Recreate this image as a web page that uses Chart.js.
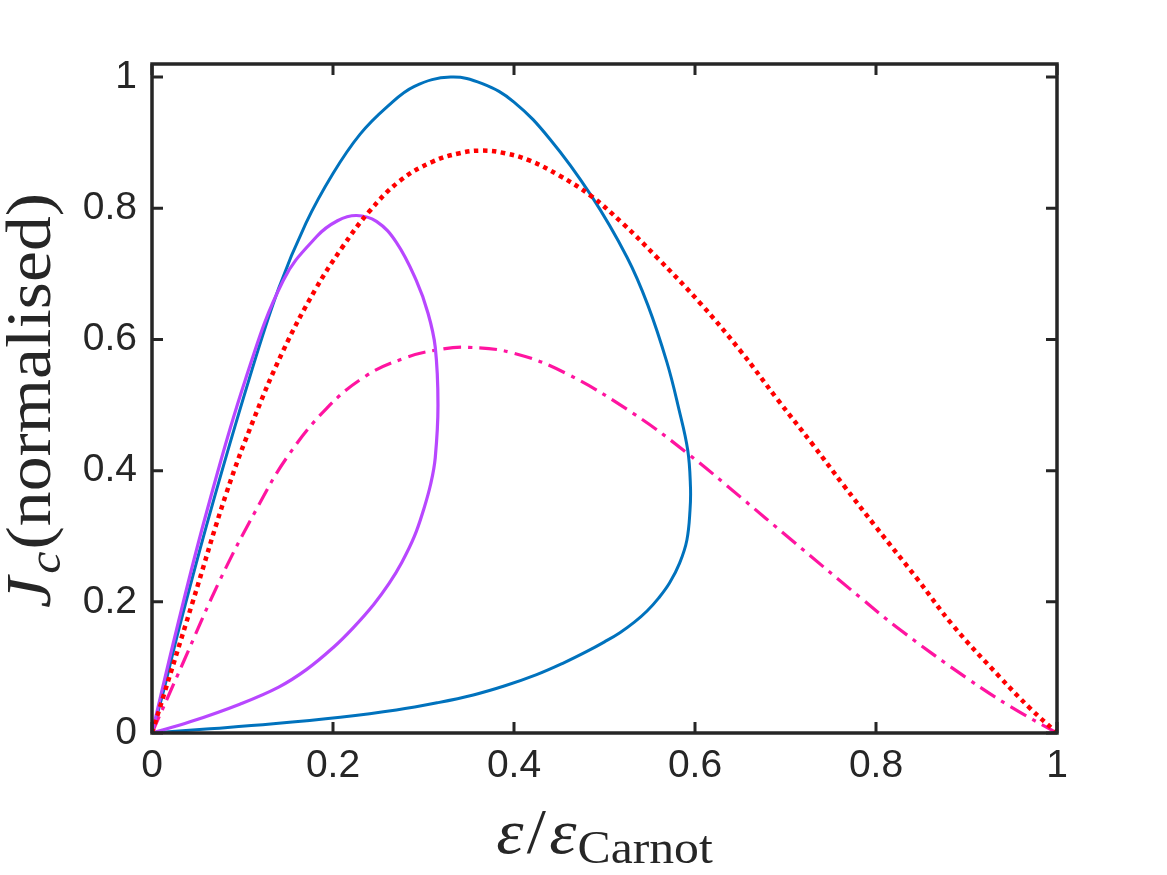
<!DOCTYPE html>
<html>
<head>
<meta charset="utf-8">
<script src="https://cdn.jsdelivr.net/npm/chart.js@4/dist/chart.umd.min.js"></script>
<style>
  html, body { margin: 0; padding: 0; background: #fff; }
  #wrap { position: relative; width: 1167px; height: 875px; }
</style>
</head>
<body>
<div id="wrap">
  <canvas id="jcChart" width="1167" height="875"></canvas>
</div>
<script>
const xTicks = [0, 0.2, 0.4, 0.6, 0.8, 1];
const yTicks = [0, 0.2, 0.4, 0.6, 0.8, 1];

const blueX = [0, 0.012, 0.03, 0.063, 0.107, 0.14, 0.17, 0.2, 0.23, 0.26, 0.29, 0.33, 0.365, 0.4, 0.44, 0.485, 0.525, 0.548, 0.569, 0.582, 0.592, 0.595, 0.5945, 0.591, 0.583, 0.572, 0.56, 0.547, 0.533, 0.517, 0.5, 0.48, 0.455, 0.425, 0.39, 0.355, 0.315, 0.27, 0.208, 0.134, 0.06, 0];
const blueY = [0, 0.06, 0.16, 0.33, 0.538, 0.678, 0.777, 0.853, 0.913, 0.955, 0.986, 1.0, 0.99, 0.962, 0.905, 0.82, 0.725, 0.652, 0.565, 0.495, 0.431, 0.375, 0.34, 0.294, 0.259, 0.229, 0.206, 0.186, 0.169, 0.153, 0.139, 0.124, 0.107, 0.089, 0.072, 0.058, 0.046, 0.035, 0.024, 0.014, 0.006, 0];

const purpleX = [0, 0.027, 0.06, 0.103, 0.145, 0.182, 0.205, 0.226, 0.248, 0.27, 0.292, 0.305, 0.313, 0.316, 0.313, 0.308, 0.3, 0.29, 0.276, 0.262, 0.245, 0.222, 0.2, 0.171, 0.14, 0.097, 0.042, 0];
const purpleY = [0, 0.157, 0.335, 0.538, 0.69, 0.757, 0.781, 0.789, 0.78, 0.748, 0.69, 0.64, 0.588, 0.5, 0.42, 0.38, 0.34, 0.3, 0.26, 0.228, 0.196, 0.16, 0.13, 0.097, 0.07, 0.044, 0.017, 0];

const redX = [0, 0.045, 0.0825, 0.112, 0.145, 0.18, 0.21, 0.24, 0.274, 0.31, 0.34, 0.365, 0.39, 0.417, 0.45, 0.485, 0.52, 0.558, 0.606, 0.65, 0.692, 0.73, 0.764, 0.8, 0.845, 0.885, 0.937, 0.97, 1];
const redY = [0, 0.2, 0.367, 0.477, 0.583, 0.675, 0.74, 0.795, 0.842, 0.871, 0.884, 0.888, 0.884, 0.873, 0.85, 0.819, 0.777, 0.725, 0.655, 0.583, 0.507, 0.44, 0.378, 0.314, 0.236, 0.164, 0.085, 0.038, 0];

const pinkX = [0, 0.034, 0.075, 0.115, 0.149, 0.193, 0.237, 0.28, 0.315, 0.35, 0.4, 0.458, 0.532, 0.593, 0.65, 0.706, 0.784, 0.827, 0.9, 0.95, 1];
const pinkY = [0, 0.106, 0.233, 0.34, 0.42, 0.495, 0.545, 0.572, 0.584, 0.588, 0.579, 0.548, 0.487, 0.425, 0.36, 0.295, 0.205, 0.157, 0.084, 0.039, 0];

const axisColor = "#262626";
const tickFont = "'Liberation Sans', Arial, Helvetica, sans-serif";
const mathFont = "'Liberation Serif', 'Times New Roman', serif";

const toPoints = (xs, ys) => xs.map((x, i) => ({ x: x, y: ys[i] }));

// draws a row of text pieces (italic, subscripts) centred on 0, stretched a bit
// so the serif font takes the room of the LaTeX one
function drawRuns(ctx, runs, stretch) {
  let total = 0;
  runs.forEach((r) => {
    ctx.font = r.font;
    r.w = ctx.measureText(r.text).width;
    total += r.w + (r.gap || 0);
  });
  ctx.scale(stretch, 1);
  let pos = -total / 2;
  runs.forEach((r) => {
    ctx.font = r.font;
    ctx.fillText(r.text, pos, r.dy || 0);
    pos += r.w + (r.gap || 0);
  });
}

const framePlugin = {
  id: "frame",
  afterDatasetsDraw(chart) {
    const { ctx, chartArea: a, scales } = chart;
    const tickLen = 11;
    ctx.save();
    ctx.strokeStyle = axisColor;
    ctx.lineWidth = 3;
    ctx.lineCap = "butt";
    ctx.beginPath();
    xTicks.forEach((v) => {
      const px = scales.x.getPixelForValue(v);
      ctx.moveTo(px, a.bottom);
      ctx.lineTo(px, a.bottom - tickLen);
      ctx.moveTo(px, a.top);
      ctx.lineTo(px, a.top + tickLen);
    });
    yTicks.forEach((v) => {
      const py = scales.y.getPixelForValue(v);
      ctx.moveTo(a.left, py);
      ctx.lineTo(a.left + tickLen, py);
      ctx.moveTo(a.right, py);
      ctx.lineTo(a.right - tickLen, py);
    });
    ctx.stroke();
    ctx.lineWidth = 3.5;
    ctx.strokeRect(a.left, a.top, a.right - a.left, a.bottom - a.top);

    ctx.fillStyle = axisColor;
    ctx.textBaseline = "alphabetic";
    ctx.textAlign = "left";

    // x title: ε/ε_Carnot
    ctx.save();
    ctx.translate((a.left + a.right) / 2, 853);
    drawRuns(ctx, [
      { text: "ε", font: "italic 64px " + mathFont, gap: 3 },
      { text: "/", font: "64px " + mathFont, gap: 3 },
      { text: "ε", font: "italic 64px " + mathFont, gap: 1 },
      { text: "Carnot", font: "46px " + mathFont, dy: 10 },
    ], 1.08);
    ctx.restore();

    // y title: J_c(normalised)
    ctx.save();
    ctx.translate(50, (a.top + a.bottom) / 2 + 2);
    ctx.rotate(-Math.PI / 2);
    drawRuns(ctx, [
      { text: "J", font: "italic 64px " + mathFont, gap: 3 },
      { text: "c", font: "italic 46px " + mathFont, dy: 10, gap: 2 },
      { text: "(normalised)", font: "64px " + mathFont },
    ], 1.09);
    ctx.restore();

    ctx.restore();
  },
};

const lineSet = (label, xs, ys, color, width, dash) => ({
  label: label,
  data: toPoints(xs, ys),
  showLine: true,
  borderColor: color,
  backgroundColor: color,
  borderWidth: width,
  borderDash: dash,
  borderCapStyle: "butt",
  borderJoinStyle: "round",
  pointRadius: 0,
  tension: 0.4,
  fill: false,
});

new Chart(document.getElementById("jcChart"), {
  type: "scatter",
  data: {
    datasets: [
      lineSet("red", redX, redY, "#FF0000", 4.5, [4.5, 4.5]),
      lineSet("purple", purpleX, purpleY, "#B847FF", 3.2, []),
      lineSet("pink", pinkX, pinkY, "#FF14A0", 3.2, [18, 7, 4, 7]),
      lineSet("blue", blueX, blueY, "#0072BD", 3, []),
    ],
  },
  options: {
    responsive: false,
    animation: false,
    layout: { padding: { top: 64, right: 110, left: 0, bottom: 0 } },
    plugins: { legend: { display: false }, tooltip: { enabled: false } },
    scales: {
      x: {
        type: "linear",
        min: 0,
        max: 1,
        afterFit: (s) => { s.height = 142; },
        afterBuildTicks: (s) => { s.ticks = xTicks.map((v) => ({ value: v })); },
        grid: { display: false, drawTicks: false },
        border: { display: false },
        ticks: {
          padding: 10,
          color: axisColor,
          font: { family: tickFont, size: 39 },
          maxRotation: 0,
          callback: (v) => String(v),
        },
      },
      y: {
        type: "linear",
        min: 0,
        max: 1.02,
        afterFit: (s) => { s.width = 152; },
        afterBuildTicks: (s) => { s.ticks = yTicks.map((v) => ({ value: v })); },
        grid: { display: false, drawTicks: false },
        border: { display: false },
        ticks: {
          padding: 15,
          color: axisColor,
          font: { family: tickFont, size: 39 },
          callback: (v) => String(v),
        },
      },
    },
  },
  plugins: [framePlugin],
});
</script>
</body>
</html>
